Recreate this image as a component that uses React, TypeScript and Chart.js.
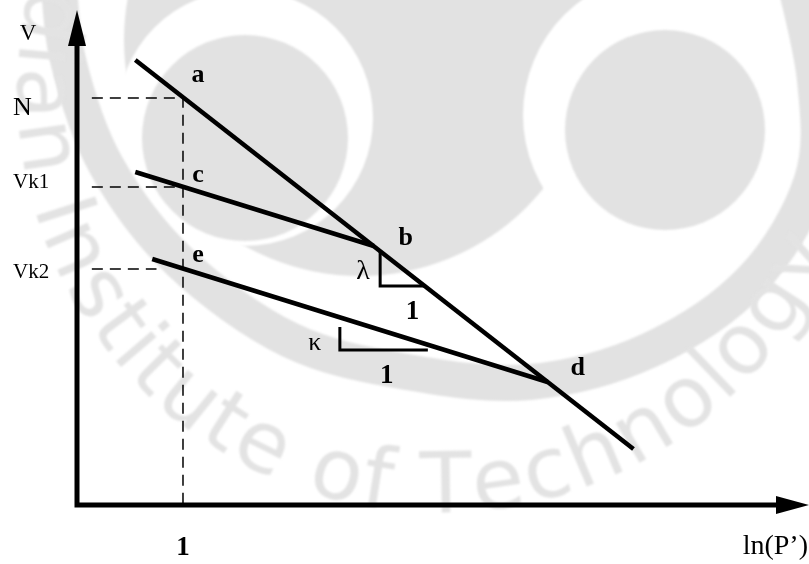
import React, { useEffect, useRef } from 'react';
import { Chart, registerables } from 'chart.js';

Chart.register(...registerables);

// ---- data: ln(p') along each line and the specific volume v there ----
const nclLnP = [0.55, 5.25];
const nclV = [4.45, 0.56];
const url1LnP = [0.55, 2.8];
const url1V = [3.33, 2.59];
const url2LnP = [0.71, 4.44];
const url2V = [2.46, 1.23];

// slope markers (lambda under the NCL, kappa under the lower swelling line)
const lambdaLnP = [2.86, 2.86, 3.28];
const lambdaV = [2.54, 2.19, 2.19];
const kappaLnP = [2.48, 2.48, 3.31];
const kappaV = [1.78, 1.55, 1.55];

const refLnP = 1;
const refLevels = [4.07, 3.18, 2.36];
const refLabels = ['N', 'Vk1', 'Vk2'];
const refLeaderStart = [0.14, 0.14, 0.14];
const refLeaderEnd = [1, 1, 0.75];

const xTickValues = [1];
const xTickLabels = ['1'];

// named points on the lines
const pointNames = ['a', 'c', 'e', 'b', 'd'];
const pointLnP = [1, 1, 1, 2.8, 4.44];
const pointV = [4.07, 3.18, 2.36, 2.59, 1.23];

const slopeNames = ['\u03bb', '\u03ba'];

const xMin = 0;
const xMax = 6.906;
const yMin = 0;
const yMax = 4.95;

// ---- styling ----
const SERIF = '"Liberation Serif", "Times New Roman", serif';
const pointLabelOffsets: [number, number][] = [
  [15, -16],
  [15, -5],
  [15, -7],
  [32, -1],
  [30, -7],
];
const refLabelBaselineOffsets = [17, 1, 9];
const refLabelFonts = [`26px ${SERIF}`, `21px ${SERIF}`, `21px ${SERIF}`];

const toPts = (xs: number[], ys: number[]) => xs.map((x, i) => ({ x, y: ys[i] }));

function smoothPath(ctx: CanvasRenderingContext2D, pts: number[][]) {
  ctx.beginPath();
  ctx.moveTo(pts[0][0], pts[0][1]);
  for (let i = 0; i < pts.length - 1; i++) {
    const p0 = pts[i - 1] || pts[i];
    const p1 = pts[i];
    const p2 = pts[i + 1];
    const p3 = pts[i + 2] || p2;
    ctx.bezierCurveTo(
      p1[0] + (p2[0] - p0[0]) / 6,
      p1[1] + (p2[1] - p0[1]) / 6,
      p2[0] - (p3[0] - p1[0]) / 6,
      p2[1] - (p3[1] - p1[1]) / 6,
      p2[0],
      p2[1]
    );
  }
}

function disc(ctx: CanvasRenderingContext2D, cx: number, cy: number, r: number, color: string) {
  ctx.beginPath();
  ctx.arc(cx, cy, r, 0, Math.PI * 2);
  ctx.fillStyle = color;
  ctx.fill();
}

// faint institute emblem behind the diagram
const watermarkPlugin = {
  id: 'watermark',
  beforeDraw(chart: Chart) {
    const { ctx, width, height } = chart;
    ctx.save();
    ctx.fillStyle = '#ffffff';
    ctx.fillRect(0, 0, width, height);
    ctx.filter = 'blur(1px)';
    const grey = '#e2e2e2';

    disc(ctx, 360, 40, 236, grey);
    disc(ctx, 665, 115, 142, '#ffffff');
    disc(ctx, 245, 118, 128, '#ffffff');
    disc(ctx, 245, 138, 103, grey);
    disc(ctx, 665, 130, 100, grey);

    ctx.strokeStyle = grey;
    ctx.lineWidth = 36;
    ctx.lineCap = 'butt';
    smoothPath(ctx, [
      [58, -30],
      [68, 60],
      [106, 165],
      [180, 262],
      [290, 340],
      [407, 372],
      [530, 382],
      [650, 350],
      [752, 280],
      [812, 180],
      [815, 80],
      [792, -30],
    ]);
    ctx.stroke();

    // lettering around the lower rim
    const text = 'Indian Institute of Technology';
    const chars = Array.from(text);
    ctx.font = '100px "DejaVu Sans", sans-serif';
    const adv = chars.map((ch) => ctx.measureText(ch).width);
    let acc = 0;
    const centres = adv.map((a) => {
      const c = acc + a / 2;
      acc += a;
      return c;
    });
    const cx = 440;
    const cy = 90;
    const rc = 392;
    const iS = 9;
    const iY = chars.length - 1;
    const thS = (149.3 * Math.PI) / 180;
    const thY = (25.3 * Math.PI) / 180;
    const k = ((thS - thY) * rc) / (centres[iY] - centres[iS]);
    const fs = 100 * k;
    ctx.font = `${fs}px "DejaVu Sans", sans-serif`;
    ctx.fillStyle = '#e3e3e3';
    ctx.textAlign = 'center';
    ctx.textBaseline = 'alphabetic';
    const rb = rc + 0.36 * fs;
    chars.forEach((ch, i) => {
      const th = thS - ((centres[i] - centres[iS]) * k) / rc;
      ctx.save();
      ctx.translate(cx + rb * Math.cos(th), cy + rb * Math.sin(th));
      ctx.rotate(th - Math.PI / 2);
      ctx.fillText(ch, 0, 0);
      ctx.restore();
    });
    ctx.restore();
  },
};

// axes with arrowheads and all lettering
const diagramPlugin = {
  id: 'diagram',
  afterDatasetsDraw(chart: Chart) {
    const { ctx, chartArea } = chart;
    const xs = chart.scales.x;
    const ys = chart.scales.y;
    const x0 = xs.getPixelForValue(xMin);
    const y0 = ys.getPixelForValue(yMin);
    ctx.save();
    ctx.fillStyle = '#000';
    ctx.strokeStyle = '#000';

    ctx.lineWidth = 5;
    ctx.beginPath();
    ctx.moveTo(x0, y0 + 2.5);
    ctx.lineTo(x0, chartArea.top + 34);
    ctx.moveTo(x0 - 2.5, y0);
    ctx.lineTo(chartArea.right - 31, y0);
    ctx.stroke();

    ctx.beginPath();
    ctx.moveTo(x0, chartArea.top);
    ctx.lineTo(x0 - 9, chartArea.top + 36);
    ctx.lineTo(x0 + 9, chartArea.top + 36);
    ctx.closePath();
    ctx.fill();

    ctx.beginPath();
    ctx.moveTo(chartArea.right, y0);
    ctx.lineTo(chartArea.right - 33, y0 - 9);
    ctx.lineTo(chartArea.right - 33, y0 + 9);
    ctx.closePath();
    ctx.fill();

    ctx.textBaseline = 'alphabetic';

    // axis titles
    ctx.textAlign = 'center';
    ctx.font = `23px ${SERIF}`;
    ctx.fillText('V', x0 - 49, chartArea.top + 30);
    ctx.textAlign = 'right';
    ctx.font = `28px ${SERIF}`;
    ctx.fillText('ln(P\u2019)', chartArea.right - 1, y0 + 49);

    // volume labels at the reference pressure
    ctx.textAlign = 'left';
    refLabels.forEach((label, i) => {
      ctx.font = refLabelFonts[i];
      ctx.fillText(label, x0 - 64, ys.getPixelForValue(refLevels[i]) + refLabelBaselineOffsets[i]);
    });

    // x tick labels
    ctx.textAlign = 'center';
    ctx.font = `bold 27px ${SERIF}`;
    xTickValues.forEach((v, i) => {
      ctx.fillText(xTickLabels[i], xs.getPixelForValue(v), y0 + 50);
    });

    // point names
    ctx.font = `bold 26px ${SERIF}`;
    pointNames.forEach((name, i) => {
      const [dx, dy] = pointLabelOffsets[i];
      ctx.fillText(name, xs.getPixelForValue(pointLnP[i]) + dx, ys.getPixelForValue(pointV[i]) + dy);
    });

    // slope marker lettering
    const lamX = xs.getPixelForValue(lambdaLnP[1]);
    const lamY = ys.getPixelForValue(lambdaV[1]);
    const lamMid = (lamX + xs.getPixelForValue(lambdaLnP[2])) / 2;
    const kapX = xs.getPixelForValue(kappaLnP[1]);
    const kapY = ys.getPixelForValue(kappaV[1]);
    const kapMid = (kapX + xs.getPixelForValue(kappaLnP[2])) / 2;

    ctx.font = `28px ${SERIF}`;
    ctx.fillText(slopeNames[0], lamX - 17, lamY - 7);
    ctx.font = `26px ${SERIF}`;
    ctx.fillText(slopeNames[1], kapX - 25, kapY);
    ctx.font = `bold 27px ${SERIF}`;
    ctx.fillText('1', lamMid + 10, lamY + 33);
    ctx.fillText('1', kapMid + 3, kapY + 33);

    ctx.restore();
  },
};

export default function App() {
  const canvasRef = useRef<HTMLCanvasElement | null>(null);

  useEffect(() => {
    const canvas = canvasRef.current;
    if (!canvas) return;

    const solid = (data: { x: number; y: number }[], width: number) => ({
      data,
      borderColor: '#000',
      borderWidth: width,
      showLine: true,
      pointRadius: 0,
      fill: false,
      tension: 0,
      borderCapStyle: 'butt' as const,
      borderJoinStyle: 'miter' as const,
    });
    const dashed = (data: { x: number; y: number }[]) => ({
      ...solid(data, 1.5),
      borderDash: [11, 7],
    });

    const datasets = [
      solid(toPts(nclLnP, nclV), 4.5),
      solid(toPts(url1LnP, url1V), 4.5),
      solid(toPts(url2LnP, url2V), 4.5),
      solid(toPts(lambdaLnP, lambdaV), 3),
      solid(toPts(kappaLnP, kappaV), 3),
      dashed([
        { x: refLeaderStart[0], y: refLevels[0] },
        { x: refLeaderEnd[0], y: refLevels[0] },
        { x: refLnP, y: yMin },
      ]),
      dashed([
        { x: refLeaderStart[1], y: refLevels[1] },
        { x: refLeaderEnd[1], y: refLevels[1] },
      ]),
      dashed([
        { x: refLeaderStart[2], y: refLevels[2] },
        { x: refLeaderEnd[2], y: refLevels[2] },
      ]),
    ];

    const chart = new Chart(canvas, {
      type: 'scatter',
      data: { datasets },
      options: {
        animation: false,
        responsive: false,
        events: [],
        layout: { padding: { left: 77, right: 0, top: 10, bottom: 59 } },
        plugins: {
          legend: { display: false },
          tooltip: { enabled: false },
        },
        scales: {
          x: { type: 'linear', min: xMin, max: xMax, display: false },
          y: { type: 'linear', min: yMin, max: yMax, display: false },
        },
      },
      plugins: [watermarkPlugin, diagramPlugin],
    });

    return () => chart.destroy();
  }, []);

  return (
    <div style={{ position: 'absolute', left: 0, top: 0, width: 809, height: 564, background: '#fff' }}>
      <canvas ref={canvasRef} width={809} height={564} style={{ display: 'block' }} />
    </div>
  );
}
